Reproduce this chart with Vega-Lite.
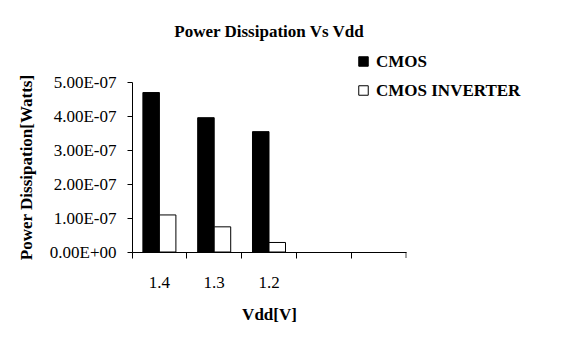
{
  "$schema": "https://vega.github.io/schema/vega-lite/v6.json",
  "width": 274,
  "height": 170,
  "autosize": {"type": "none"},
  "padding": {"left": 132, "top": 82, "right": 157, "bottom": 91},
  "background": "white",
  "title": {
    "text": "Power Dissipation Vs Vdd",
    "font": "Liberation Serif",
    "fontSize": 17,
    "fontWeight": "bold",
    "color": "black",
    "anchor": "middle",
    "offset": 12
  },
  "config": {
    "view": {"stroke": null},
    "font": "Liberation Serif",
    "axis": {
      "domainColor": "black",
      "tickColor": "black",
      "labelColor": "black",
      "titleColor": "black",
      "labelFont": "Liberation Serif",
      "titleFont": "Liberation Serif",
      "labelFontSize": 17,
      "titleFontSize": 17,
      "titleFontWeight": "bold",
      "grid": false,
      "domainWidth": 1,
      "tickWidth": 1,
      "labelOverlap": false
    }
  },
  "data": {
    "values": [
      {"vdd": "1.4", "series": "CMOS", "power": 4.69e-7},
      {"vdd": "1.4", "series": "CMOS INVERTER", "power": 1.09e-7},
      {"vdd": "1.3", "series": "CMOS", "power": 3.95e-7},
      {"vdd": "1.3", "series": "CMOS INVERTER", "power": 0.74e-7},
      {"vdd": "1.2", "series": "CMOS", "power": 3.54e-7},
      {"vdd": "1.2", "series": "CMOS INVERTER", "power": 0.28e-7}
    ]
  },
  "layer": [
    {
      "mark": {"type": "bar", "stroke": "black", "strokeWidth": 1},
      "encoding": {
        "x": {
          "field": "vdd",
          "type": "nominal",
          "sort": null,
          "scale": {"domain": ["1.4", "1.3", "1.2", "x4", "x5"], "paddingInner": 0, "paddingOuter": 0},
          "axis": {
            "title": "Vdd[V]",
            "labelAngle": 0,
            "bandPosition": 0,
            "tickSize": 6,
            "labelPadding": 16,
            "titlePadding": 16,
            "labelFont": "Liberation Serif",
            "labelExpr": "indexof(datum.value, 'x') == 0 ? '' : datum.value"
          }
        },
        "xOffset": {
          "field": "series",
          "type": "nominal",
          "scale": {"paddingInner": 0, "paddingOuter": 0.66}
        },
        "y": {
          "field": "power",
          "type": "quantitative",
          "scale": {"domain": [0, 5e-7], "nice": false},
          "axis": {
            "title": "Power Dissipation[Watts]",
            "values": [0, 1e-7, 2e-7, 3e-7, 4e-7, 5e-7],
            "tickCount": 12,
            "labelOverlap": false,
            "labelFlush": false,
            "tickSize": 5,
            "labelPadding": 11,
            "titlePadding": 14,
            "labelFont": "Liberation Serif",
            "labelExpr": "replace(replace(format(datum.value, '.2e'), 'e-', 'E-0'), 'e+', 'E+0')"
          }
        },
        "fill": {
          "field": "series",
          "type": "nominal",
          "scale": {"domain": ["CMOS", "CMOS INVERTER"], "range": ["black", "white"]},
          "legend": {
            "title": null,
            "orient": "none",
            "legendX": 223,
            "legendY": -29,
            "symbolType": "square",
            "symbolSize": 90,
            "symbolStrokeColor": "black",
            "symbolStrokeWidth": 1,
            "labelFont": "Liberation Serif",
            "labelFontSize": 17,
            "labelFontWeight": "bold",
            "labelColor": "black",
            "rowPadding": 11,
            "labelOffset": 4
          }
        }
      }
    },
    {
      "data": {"values": [{}]},
      "mark": {"type": "tick", "orient": "vertical", "color": "black", "size": 6, "thickness": 1, "yOffset": 3},
      "encoding": {
        "x": {"datum": "x5", "bandPosition": 1},
        "y": {"datum": 0}
      }
    }
  ]
}
